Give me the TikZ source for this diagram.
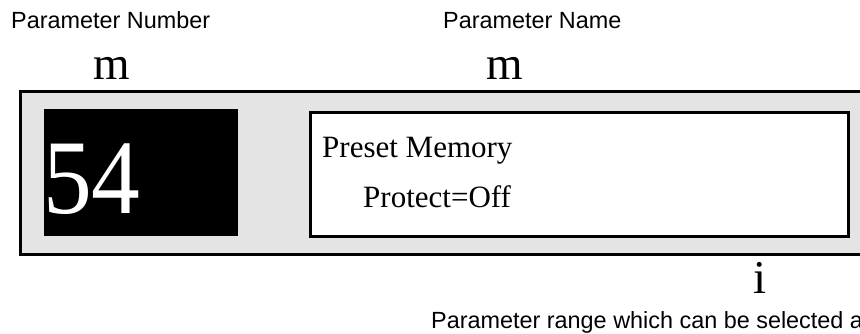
\documentclass[tikz,border=0pt]{standalone}
\usepackage{fontspec}
\setmainfont{Liberation Serif}
\setsansfont{Liberation Sans}
\usepackage{tikz}
\usetikzlibrary{positioning}
\definecolor{panelgray}{HTML}{E4E4E4}
\tikzset{
panelbox/.style={draw, line width=3pt, fill=panelgray},
digitbox/.style={fill=black, inner sep=0pt},
namebox/.style={draw, line width=3pt, fill=white, inner sep=0pt},
toplabel/.style={inner sep=0pt, anchor=base west, font=\sffamily\fontsize{23.4}{28}\selectfont},
arrowmark/.style={inner sep=0pt, anchor=base, font=\fontsize{47}{50}\selectfont},
lcdtext/.style={inner sep=0pt, anchor=base west, font=\fontsize{31}{36}\selectfont}
}
\begin{document}
\begin{tikzpicture}[x=1pt,y=-1pt]
\useasboundingbox (0,0) rectangle (860,333);
% display panel
\draw[panelbox] (20,91) rectangle (900,254);
\node[digitbox, minimum width=194pt, minimum height=127pt, anchor=north west] (numbox) at (44,109) {};
\node[namebox, minimum width=538pt, minimum height=124pt, anchor=north west] (parbox) at (309,110.5) {};
\node[inner sep=0pt, anchor=base west, text=white, font=\fontsize{106}{112}\selectfont] (numtxt) at (43,213) {\scalebox{0.92}[1]{54}};
\node[lcdtext] (nameone) at (322,157) {Preset Memory};
\node[lcdtext] (nametwo) at (363,207) {Protect=Off};
% labels
\node[toplabel] (numlab) at (11,28) {Parameter Number};
\node[toplabel] (namelab) at (443,28) {Parameter Name};
\node[arrowmark] (numarr) at (112,79) {m};
\node[arrowmark] (namearr) at (505,79) {m};
\node[arrowmark] (rangearr) at (760,293) {i};
\node[toplabel] (rangelab) at (431,328) {Parameter range which can be selected a};
\end{tikzpicture}
\end{document}
